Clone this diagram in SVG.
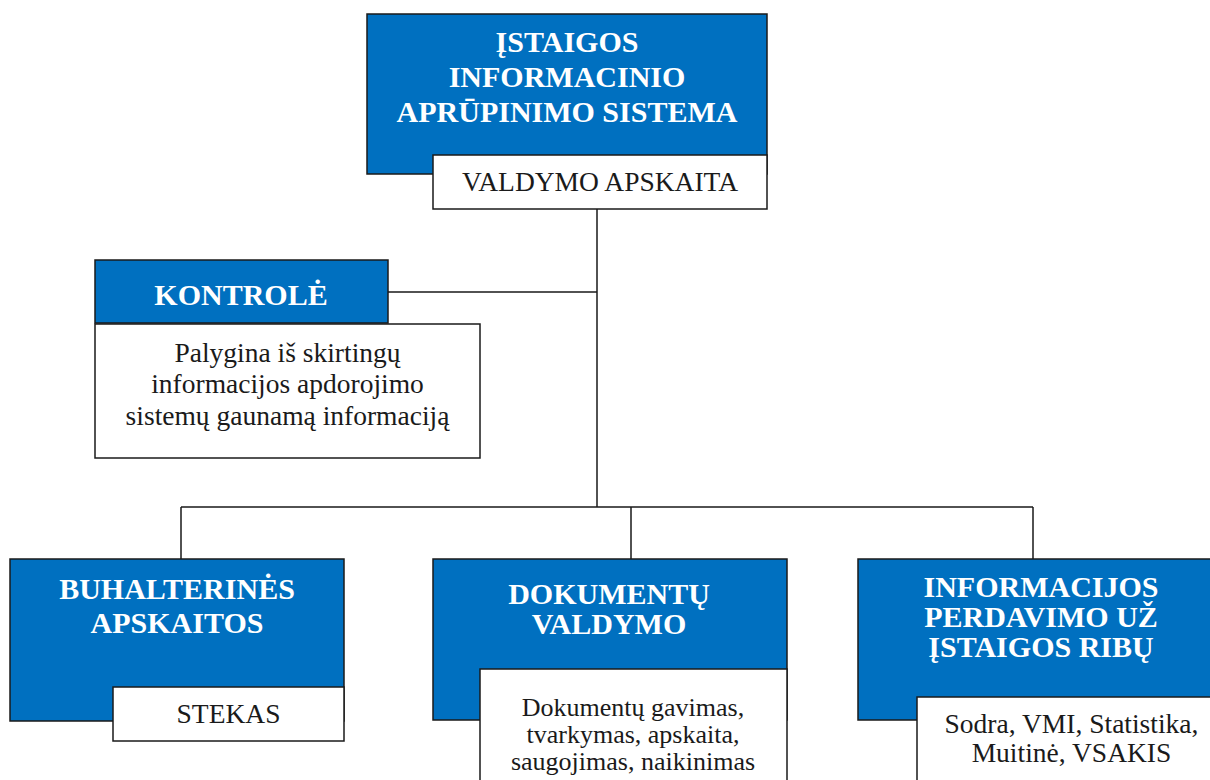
<svg xmlns="http://www.w3.org/2000/svg" width="1210" height="780" viewBox="0 0 1210 780">
<style>
.blue{fill:#0070C0;stroke:#1a1a1a;stroke-width:1.5}
.white{fill:#ffffff;stroke:#1a1a1a;stroke-width:1.5}
.t{font-family:"Liberation Serif","Times New Roman",serif;font-weight:bold;font-size:30px;fill:#ffffff;text-anchor:middle}
.b{font-family:"Liberation Serif","Times New Roman",serif;font-size:27.5px;fill:#1a1a1a;text-anchor:middle}
.s{font-size:26px}
.c{fill:none;stroke:#1a1a1a;stroke-width:1.5}
</style>
<rect width="1210" height="780" fill="#ffffff"/>
<g id="connectors">
<path class="c" d="M597 209V507M388 292H597M181 507H1033M181 507V559M631 507V559M1033 507V559"/>
</g>
<g id="node-top">
<rect class="blue" x="367" y="14" width="400" height="160"/>
<rect class="white" x="433" y="155" width="334" height="54"/>
<text class="t" x="567" y="52">ĮSTAIGOS</text>
<text class="t" x="567" y="87">INFORMACINIO</text>
<text class="t" x="567" y="122">APRŪPINIMO SISTEMA</text>
<text class="b" x="600" y="191">VALDYMO APSKAITA</text>
</g>
<g id="node-kontrole">
<rect class="blue" x="95" y="260" width="293" height="63"/>
<rect class="white" x="95" y="324" width="385" height="134"/>
<text class="t" x="241" y="305">KONTROLĖ</text>
<text class="b" x="287.5" y="362">Palygina iš skirtingų</text>
<text class="b" x="287.5" y="393">informacijos apdorojimo</text>
<text class="b" x="287.5" y="425">sistemų gaunamą informaciją</text>
</g>
<g id="node-buhalterines">
<rect class="blue" x="10" y="559" width="334" height="162"/>
<rect class="white" x="113" y="687" width="231" height="54"/>
<text class="t" x="177" y="599">BUHALTERINĖS</text>
<text class="t" x="177" y="633">APSKAITOS</text>
<text class="b" x="228.5" y="723">STEKAS</text>
</g>
<g id="node-dokumentu">
<rect class="blue" x="433" y="559" width="354" height="161"/>
<rect class="white" x="480" y="669" width="307" height="130"/>
<text class="t" x="609" y="604">DOKUMENTŲ</text>
<text class="t" x="609" y="634">VALDYMO</text>
<text class="b s" x="633" y="716">Dokumentų gavimas,</text>
<text class="b s" x="633" y="743">tvarkymas, apskaita,</text>
<text class="b s" x="633" y="770">saugojimas, naikinimas</text>
</g>
<g id="node-informacijos">
<rect class="blue" x="858" y="559" width="366" height="161"/>
<rect class="white" x="917" y="697" width="309" height="100"/>
<text class="t" x="1041" y="597">INFORMACIJOS</text>
<text class="t" x="1041" y="627">PERDAVIMO UŽ</text>
<text class="t" x="1041" y="657">ĮSTAIGOS RIBŲ</text>
<text class="b" x="1071.5" y="733">Sodra, VMI, Statistika,</text>
<text class="b" x="1071.5" y="762">Muitinė, VSAKIS</text>
</g>
</svg>
